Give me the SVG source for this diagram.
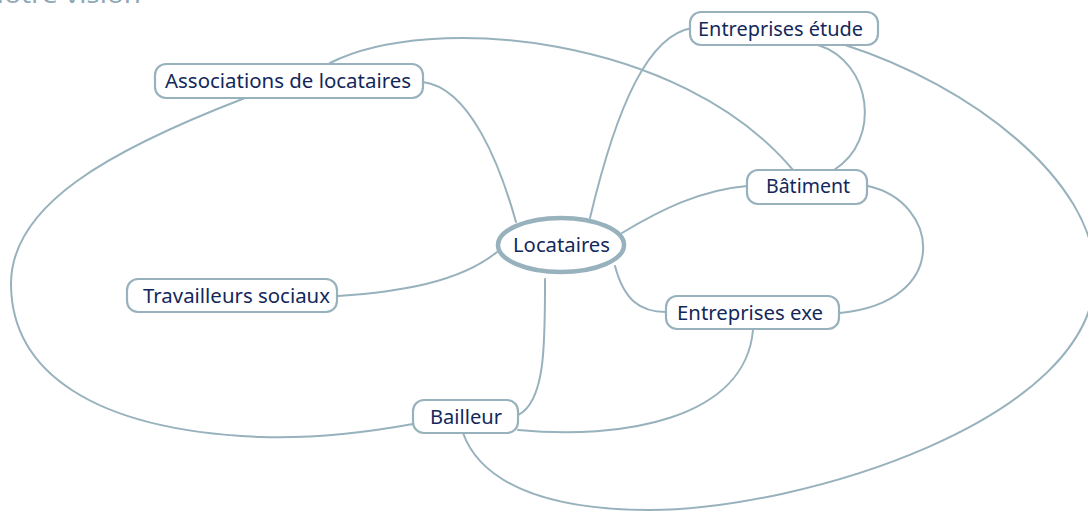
<svg xmlns="http://www.w3.org/2000/svg" width="1088" height="513" viewBox="0 0 1088 513">
  <style>
    .link { fill: none; stroke: #98b2bd; stroke-width: 2; stroke-linecap: round; }
    .box { fill: #ffffff; stroke: #98b2bd; stroke-width: 2.2; }
    .core { fill: #ffffff; stroke: #98b2bd; stroke-width: 4.5; }
    .label { font-family: "Noto Sans", "Open Sans", sans-serif; font-size: 19px; fill: #13285a; }
    .title { font-family: "Noto Sans", "Open Sans", sans-serif; font-size: 24px; fill: #8ea8b5; }
  </style>

  <rect width="1088" height="513" fill="#ffffff"/>

  <!-- page heading, mostly above the top edge -->
  <text class="title" x="-17" y="3" textLength="158" lengthAdjust="spacingAndGlyphs">Notre vision</text>

  <g id="connectors">
    <!-- spokes from Locataires -->
    <path class="link" d="M423,82 C470,88 500,165 516,222"/>
    <path class="link" d="M692,28 C650,35 618,100 590,218"/>
    <path class="link" d="M747,186 C700,190 660,210 622,233"/>
    <path class="link" d="M338,296 C400,292 460,282 497,252"/>
    <path class="link" d="M615,266 C624,300 640,312 666,312"/>
    <path class="link" d="M545,279 C545,340 546,402 518,415"/>
    <!-- links between outer nodes -->
    <path class="link" d="M818,45 C872,62 882,140 834,170"/>
    <path class="link" d="M868,186 C940,202 952,302 840,313"/>
    <path class="link" d="M753,330 C745,420 620,440 518,430"/>
    <path class="link" d="M330,63 C430,12 680,35 793,170"/>
    <path class="link" d="M245,98 C110,150 10,205 11,285 C12,370 90,430 260,437 C320,439 380,430 413,424"/>
    <path class="link" d="M845,45 C970,85 1095,180 1095,275 C1095,420 800,510 650,510 C540,510 480,480 463,433"/>
  </g>

  <g id="node-associations">
    <rect class="box" x="155" y="64" width="268" height="34" rx="11"/>
    <text class="label" x="165" y="88" textLength="246" lengthAdjust="spacingAndGlyphs">Associations de locataires</text>
  </g>

  <g id="node-entreprises-etude">
    <rect class="box" x="690" y="12" width="188" height="33" rx="11"/>
    <text class="label" x="698" y="36" textLength="165" lengthAdjust="spacingAndGlyphs">Entreprises étude</text>
  </g>

  <g id="node-batiment">
    <rect class="box" x="747" y="170" width="120" height="34" rx="11"/>
    <text class="label" x="766" y="193" textLength="84" lengthAdjust="spacingAndGlyphs">Bâtiment</text>
  </g>

  <g id="node-locataires">
    <ellipse class="core" cx="561" cy="245" rx="63" ry="27"/>
    <text class="label" x="513" y="252" textLength="97" lengthAdjust="spacingAndGlyphs">Locataires</text>
  </g>

  <g id="node-travailleurs">
    <rect class="box" x="127" y="279" width="210" height="33" rx="11"/>
    <text class="label" x="143" y="303" textLength="187" lengthAdjust="spacingAndGlyphs">Travailleurs sociaux</text>
  </g>

  <g id="node-entreprises-exe">
    <rect class="box" x="666" y="296" width="173" height="33" rx="11"/>
    <text class="label" x="677" y="320" textLength="146" lengthAdjust="spacingAndGlyphs">Entreprises exe</text>
  </g>

  <g id="node-bailleur">
    <rect class="box" x="413" y="400" width="105" height="33" rx="11"/>
    <text class="label" x="430" y="424" textLength="72" lengthAdjust="spacingAndGlyphs">Bailleur</text>
  </g>
</svg>
